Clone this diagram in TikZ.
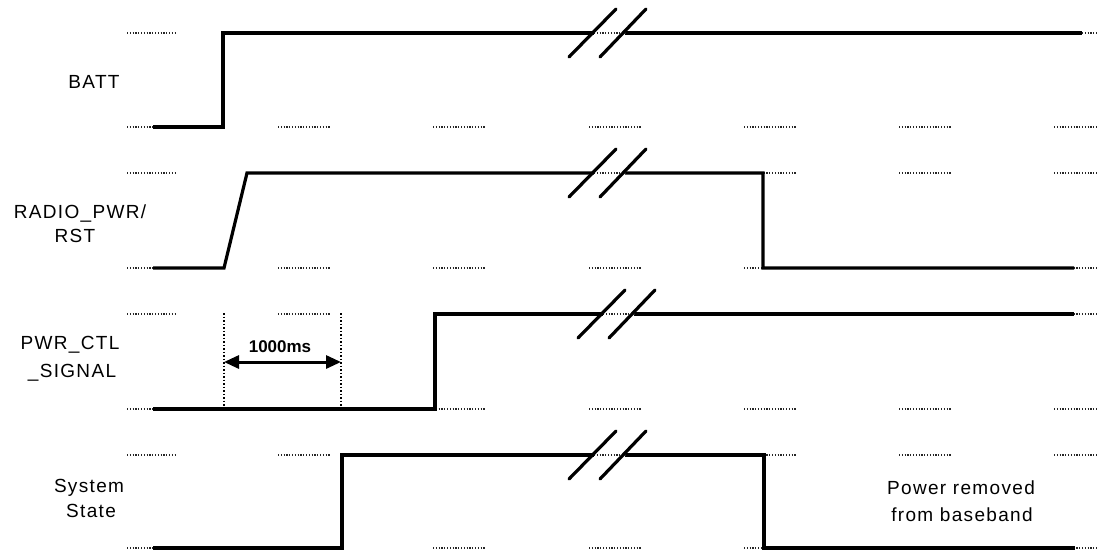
\documentclass[tikz,border=0pt]{standalone}
\usepackage{fontspec}
\setmainfont{Liberation Sans}
\usetikzlibrary{arrows.meta}
\tikzset{
  sig/.style={line width=3.2pt, line join=miter, line cap=butt},
  grid/.style={line width=1.2pt, black!85, dash pattern=on 1.2pt off 1.6pt},
  vguide/.style={line width=1.2pt, black, dash pattern=on 1.5pt off 2pt},
  slash/.style={line width=3.2pt, line cap=round},
  lbl/.style={font=\fontsize{19}{22}\selectfont\addfontfeature{LetterSpace=7}, inner sep=0pt},
  dim/.style={line width=3pt, {Triangle[length=15pt,width=13pt]}-{Triangle[length=15pt,width=13pt]}},
}
\newcommand{\tbreak}[2]{%
  \fill[white] (#1-14,#2-3) rectangle (#1+17,#2+3);
  \draw[grid] (#1-14,#2) -- (#1+17,#2);
  \draw[slash] (#1-39,#2+24) -- (#1+8,#2-24);
  \draw[slash] (#1-8,#2+24) -- (#1+38,#2-24);
}
\begin{document}
\begin{tikzpicture}[x=1pt,y=-1pt]
\useasboundingbox (0,0) rectangle (1099,550);
\fill[white] (0,0) rectangle (1099,550);
% grid markers
\foreach \yy in {33,127,173,268,314,409,455,548}{
  \draw[grid] (127,\yy) -- (175,\yy);
  \foreach \xx in {278,433,589,744,899}{
    \draw[grid] (\xx,\yy) -- (\xx+52,\yy);
  }
  \draw[grid] (1054,\yy) -- (1099,\yy);
}
% labels
\node[lbl] (batt) at (94,82) {BATT};
\node[lbl] (radio1) at (80,213) {RADIO\_PWR/};
\node[lbl] (radio2) at (75,236) {RST};
\node[lbl] (pwr1) at (70,345) {PWR\_CTL};
\node[lbl] (pwr2) at (72,373) {\_SIGNAL};
\node[lbl] (sys1) at (89,488) {System};
\node[lbl] (sys2) at (91,511) {State};
\node[lbl] (pr1) at (961,488) {Power removed};
\node[lbl] (pr2) at (962,515) {from baseband};
% BATT
\draw[sig] (153,127) -- (223,127) -- (223,33) -- (1082,33);
\tbreak{608}{33}
% RADIO_PWR/RST
\draw[sig] (153,268) -- (224,268) -- (247,173) -- (763,173) -- (763,268) -- (1074,268);
\tbreak{608}{173}
% PWR_CTL_SIGNAL
\draw[sig] (153,409) -- (435,409) -- (435,314) -- (1074,314);
\tbreak{617}{314}
% System State
\draw[sig] (153,548) -- (342,548) -- (342,455) -- (764,455) -- (764,548) -- (1075,548);
\tbreak{608}{455}
% 1000ms dimension
\coordinate (g1t) at (224,313);
\coordinate (g1b) at (224,408);
\coordinate (g2t) at (341,313);
\coordinate (g2b) at (341,408);
\draw[vguide] (g1t) -- (g1b);
\draw[vguide] (g2t) -- (g2b);
\coordinate (a1) at (224,362);
\coordinate (a2) at (341,362);
\draw[dim] (a1) -- (a2);
\node[font=\bfseries\fontsize{17}{19}\selectfont, inner sep=0pt] (ms) at (280,347) {1000ms};
\end{tikzpicture}
\end{document}
